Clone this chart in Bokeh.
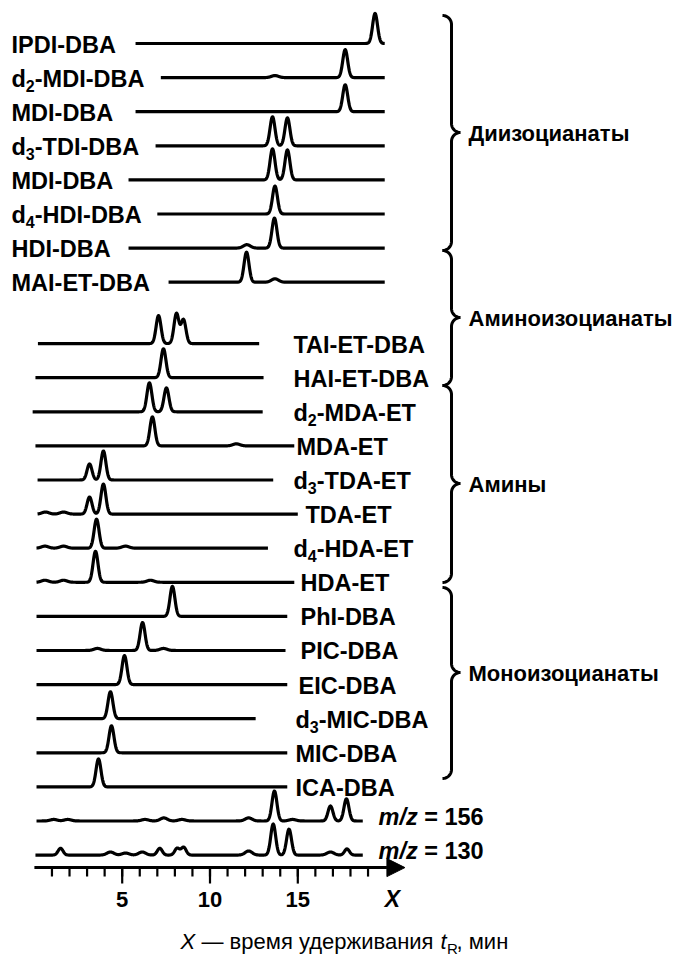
import numpy as np
from bokeh.plotting import figure
from bokeh.models import ColumnDataSource, Range1d, Arrow, NormalHead
from bokeh.core.properties import value
from bokeh.embed import file_html
from bokeh.resources import INLINE

# ---------------- data ----------------
labels = ["IPDI-DBA", "d2-MDI-DBA", "MDI-DBA", "d3-TDI-DBA", "MDI-DBA",
          "d4-HDI-DBA", "HDI-DBA", "MAI-ET-DBA",
          "TAI-ET-DBA", "HAI-ET-DBA", "d2-MDA-ET", "MDA-ET", "d3-TDA-ET",
          "TDA-ET", "d4-HDA-ET", "HDA-ET", "PhI-DBA", "PIC-DBA", "EIC-DBA",
          "d3-MIC-DBA", "MIC-DBA", "ICA-DBA", "m/z = 156", "m/z = 130"]

# retention-time window of each trace, min
t_start = [5.76, 7.2, 5.76, 6.9, 5.36, 7.0, 5.36, 7.64,
           0.2, 0.06, -0.1, 0.06, 0.18, 0.18, 0.12, 0.12, 0.12, 0.12, 0.12,
           0.12, 0.12, 0.12, 0.12, 0.06]
t_end = [19.95, 19.95, 19.95, 19.95, 19.95, 19.95, 19.95, 19.95,
         12.8, 13.05, 13.0, 14.8, 13.6, 15.0, 13.3, 14.8, 14.4, 14.3, 14.4,
         12.6, 14.4, 14.4, 18.7, 18.7]

# peaks: retention time (min) and relative intensity
peak_t = [[19.4], [13.7, 17.7], [17.7], [13.56, 14.41], [13.56, 14.41],
          [13.7], [12.1, 13.67], [12.08, 13.7],
          [7.07, 8.09, 8.49], [7.35], [6.55, 7.52], [6.72, 11.5],
          [3.14, 3.93], [0.63, 1.66, 3.14, 3.93], [0.6, 1.66, 3.54, 5.19],
          [0.6, 1.66, 3.48, 6.61], [7.86], [3.59, 6.16, 7.35], [5.13],
          [4.33], [4.39], [3.65],
          [1.1, 1.9, 6.3, 7.37, 8.4, 12.2, 13.67, 14.7, 16.86, 17.77],
          [1.49, 4.33, 5.19, 6.14, 7.14, 8.13, 8.5, 12.2, 13.6, 14.5, 16.86, 17.8]]
peak_h = [[0.88], [0.06, 0.82], [0.79], [0.85, 0.82], [0.91, 0.88],
          [0.82], [0.1, 0.88], [0.88, 0.1],
          [0.82, 0.88, 0.7], [0.85], [0.85, 0.7], [0.85, 0.06],
          [0.47, 0.85], [0.06, 0.06, 0.5, 0.88], [0.06, 0.06, 0.85, 0.06],
          [0.06, 0.06, 0.91, 0.06], [0.88], [0.06, 0.82, 0.06], [0.85],
          [0.79], [0.79], [0.82],
          [0.045, 0.045, 0.045, 0.09, 0.045, 0.09, 0.88, 0.045, 0.44, 0.65],
          [0.2, 0.09, 0.06, 0.09, 0.2, 0.2, 0.23, 0.12, 0.91, 0.76, 0.09, 0.18]]

groups = ["Диизоцианаты", "Аминоизоцианаты", "Амины", "Моноизоцианаты"]

tick_minor = list(range(1, 20))
tick_major = [5, 10, 15]
tick_labels = ["5", "10", "15"]
axis_end = 21.1

# ---------------- layout ----------------
PX_PER_T = 17.56
T0_PX = 33.9
PX_PER_ROW = 34.1
ROW0_PX = 43.0
W, H = 678, 959

def tx(px):
    return (px - T0_PX) / PX_PER_T

def ry(py):
    return -(py - ROW0_PX) / PX_PER_ROW

row_pos = [float(k) for k in range(8)] + [8.8 + k for k in range(16)]
label_px = [11] * 8 + [293, 293, 293, 296, 293, 305, 293, 300, 300, 300, 298,
                       295, 295, 295, 378, 378]
# braces: top, tip, bottom (page px)
brace_px = [(15, 132, 250), (250, 317, 385), (385, 483, 582), (587, 672, 778)]

FONT = value("Liberation Sans")
FS = 23.5

p = figure(width=W, height=H, output_backend="svg", toolbar_location=None,
           x_range=Range1d(tx(0), tx(W)), y_range=Range1d(ry(H), ry(0)),
           x_axis_type=None, y_axis_type=None, min_border=0)
p.outline_line_color = None
p.grid.visible = False
p.background_fill_color = "white"

# traces
xs, ys = [], []
for i in range(len(labels)):
    t = np.linspace(t_start[i], t_end[i], 900)
    y = np.zeros_like(t)
    for tp, h in zip(peak_t[i], peak_h[i]):
        s = 0.14 if h > 0.15 else 0.2
        y += h * np.exp(-0.5 * ((t - tp) / s) ** 2)
    xs.append(t)
    ys.append(y - row_pos[i])
p.multi_line(xs, ys, line_color="black", line_width=3.2, line_join="round")

# labels, split into pieces (subscripts / italics)
main = dict(x=[], y=[], text=[], xo=[], yo=[])
sub = dict(x=[], y=[], text=[], xo=[])
ital = dict(x=[], y=[], text=[], xo=[], yo=[])
w_d = 0.611 * FS
w_sub = 0.556 * 16
for i, lab in enumerate(labels):
    x0 = tx(label_px[i])
    y0 = -row_pos[i]
    if lab[0] == "d" and lab[1].isdigit():
        main["x"] += [x0, x0]; main["y"] += [y0, y0]; main["yo"] += [1, 1]
        main["text"] += ["d", lab[2:]]; main["xo"] += [0, w_d + w_sub]
        sub["x"].append(x0); sub["y"].append(y0); sub["text"].append(lab[1])
        sub["xo"].append(w_d)
    elif lab.startswith("m/z"):
        ital["x"].append(x0); ital["y"].append(y0); ital["text"].append("m/z")
        ital["xo"].append(0); ital["yo"].append(-4)
        main["x"].append(x0); main["y"].append(y0); main["text"].append(lab[4:])
        main["xo"].append(1.945 * FS); main["yo"].append(-4)
    else:
        main["x"].append(x0); main["y"].append(y0); main["text"].append(lab)
        main["xo"].append(0); main["yo"].append(1)

p.text(x="x", y="y", text="text", x_offset="xo", y_offset="yo",
       source=ColumnDataSource(main),
       text_font=FONT, text_font_size=f"{FS}px", text_font_style="bold",
       text_baseline="middle", text_align="left")
p.text(x="x", y="y", text="text", x_offset="xo", source=ColumnDataSource(sub),
       text_font=FONT, text_font_size="16px", text_font_style="bold",
       text_baseline="middle", text_align="left", y_offset=8)
p.text(x="x", y="y", text="text", x_offset="xo", y_offset="yo",
       source=ColumnDataSource(ital),
       text_font=FONT, text_font_size=f"{FS}px", text_font_style="bold italic",
       text_baseline="middle", text_align="left")

# braces
bx, by = [], []
xv, r = 451.0, 9.0
for (y0, ym, y1) in brace_px:
    px, py = [], []
    def arc(cx, cy, a0, a1):
        a = np.radians(np.linspace(a0, a1, 20))
        px.extend(cx + r * np.cos(a)); py.extend(cy + r * np.sin(a))
    arc(xv - r, y0 + r, -90, 0)
    arc(xv + r, ym - r, 180, 90)
    arc(xv + r, ym + r, -90, -180)
    arc(xv - r, y1 - r, 0, 90)
    bx.append([tx(v) for v in px]); by.append([ry(v) for v in py])
p.multi_line(bx, by, line_color="black", line_width=3)
p.text(x=[tx(468)] * 4, y=[ry(b[1]) for b in brace_px], text=groups,
       text_font=FONT, text_font_size="22px", text_font_style="bold",
       text_baseline="middle", text_align="left", y_offset=1)

# time axis
axis_y = -row_pos[-1] - 12.5 / PX_PER_ROW
p.add_layout(Arrow(end=NormalHead(size=18, fill_color="black", line_color="black",
                                  line_width=1),
                   x_start=0, y_start=axis_y, x_end=axis_end, y_end=axis_y,
                   line_width=3, line_color="black"))
p.segment(x0=tick_minor, y0=[axis_y] * len(tick_minor), x1=tick_minor,
          y1=[axis_y - 9 / PX_PER_ROW] * len(tick_minor),
          line_color="black", line_width=2.2)
p.segment(x0=tick_major, y0=[axis_y] * 3, x1=tick_major,
          y1=[axis_y - 16 / PX_PER_ROW] * 3, line_color="black", line_width=2.2)
p.text(x=tick_major, y=[axis_y - 31.5 / PX_PER_ROW] * 3, text=tick_labels,
       text_font=FONT, text_font_size="22px", text_font_style="bold",
       text_baseline="middle", text_align="center")
p.text(x=[tx(392)], y=[axis_y - 31.5 / PX_PER_ROW], text=["X"],
       text_font=FONT, text_font_size="23px", text_font_style="bold italic",
       text_baseline="middle", text_align="center")

# caption
CS = "22px"
cap_y = axis_y - 74 / PX_PER_ROW
p.text(x=[tx(180)], y=[cap_y], text=["X"], text_font=FONT, text_font_size=CS,
       text_font_style="italic", text_baseline="middle", text_align="left")
p.text(x=[tx(201)], y=[cap_y], text=["— время удерживания"], text_font=FONT,
       text_font_size=CS, text_baseline="middle", text_align="left")
p.text(x=[tx(440)], y=[cap_y], text=["t"], text_font=FONT, text_font_size=CS,
       text_font_style="italic", text_baseline="middle", text_align="left")
p.text(x=[tx(446.5)], y=[cap_y], text=["R"], text_font=FONT, text_font_size="15px",
       text_baseline="middle", text_align="left", y_offset=7)
p.text(x=[tx(456)], y=[cap_y], text=[", мин"], text_font=FONT, text_font_size=CS,
       text_baseline="middle", text_align="left")

open("out.html", "w").write(file_html(p, INLINE))
